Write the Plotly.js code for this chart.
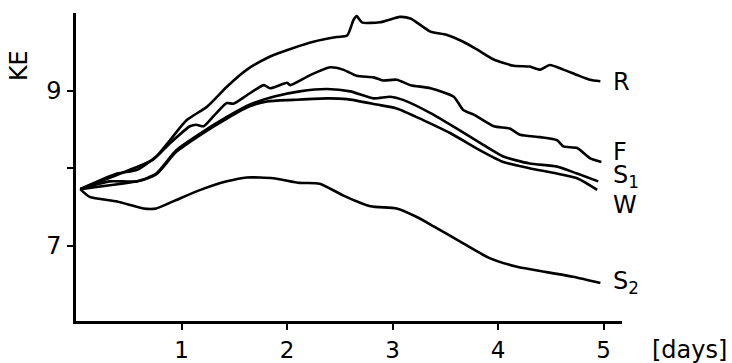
<!DOCTYPE html>
<html>
<head>
<meta charset="utf-8">
<script src="https://cdn.plot.ly/plotly-3.0.1.min.js"></script>
<style>html,body{margin:0;padding:0;background:#fff;}#chart{width:732px;height:363px;}</style>
</head>
<body>
<div id="chart"></div>
<script>
// Days
const rX = [0.04,0.39,0.58,0.76,0.89,1.05,1.24,1.43,1.62,1.84,2.06,2.25,2.47,2.57,2.63,2.66,2.71,2.88,3.07,3.17,3.36,3.51,3.67,3.80,3.96,4.15,4.30,4.40,4.49,4.62,4.75,4.87,4.97];
const rY = [7.73,7.93,7.98,8.15,8.36,8.62,8.79,9.05,9.27,9.44,9.55,9.63,9.69,9.71,9.91,9.96,9.88,9.88,9.95,9.93,9.76,9.72,9.63,9.53,9.40,9.32,9.31,9.27,9.33,9.27,9.20,9.14,9.12];

const fX = [0.04,0.42,0.73,0.89,1.08,1.14,1.21,1.33,1.43,1.49,1.62,1.78,1.84,2.00,2.03,2.22,2.41,2.53,2.66,2.82,2.91,3.04,3.17,3.36,3.58,3.67,3.77,3.96,4.11,4.21,4.40,4.56,4.62,4.75,4.87,4.98];
const fY = [7.73,7.93,8.11,8.32,8.54,8.56,8.54,8.71,8.84,8.83,8.94,9.07,9.03,9.10,9.07,9.20,9.30,9.27,9.19,9.17,9.13,9.14,9.07,9.03,8.92,8.75,8.69,8.54,8.51,8.43,8.40,8.36,8.28,8.26,8.13,8.08];

const s1X = [0.04,0.32,0.58,0.76,0.95,1.18,1.43,1.65,1.87,2.12,2.38,2.60,2.82,2.98,3.10,3.36,3.61,3.86,4.05,4.30,4.56,4.75,4.95];
const s1Y = [7.73,7.83,7.83,7.93,8.23,8.45,8.66,8.82,8.92,8.99,9.02,8.99,8.90,8.92,8.88,8.71,8.51,8.30,8.15,8.06,8.02,7.93,7.83];

const wX = [0.04,0.32,0.58,0.76,0.95,1.18,1.43,1.65,1.81,2.06,2.38,2.57,2.85,3.04,3.29,3.55,3.83,4.05,4.30,4.52,4.75,4.94];
const wY = [7.73,7.78,7.83,7.92,8.21,8.43,8.64,8.80,8.86,8.88,8.90,8.89,8.82,8.77,8.62,8.45,8.23,8.08,8.00,7.94,7.87,7.72];

const s2X = [0.04,0.13,0.39,0.64,0.76,0.95,1.18,1.43,1.62,1.87,2.12,2.31,2.53,2.79,3.04,3.23,3.39,3.67,3.92,4.18,4.46,4.71,4.97];
const s2Y = [7.73,7.63,7.57,7.48,7.48,7.59,7.72,7.83,7.88,7.87,7.81,7.80,7.65,7.51,7.48,7.37,7.25,7.03,6.84,6.73,6.66,6.60,6.52];

const seriesNames = ['R','F','S<sub>1</sub>','W','S<sub>2</sub>'];
const labelY = [9.11, 8.21, 7.89, 7.52, 6.53];

const xTickVals = [1,2,3,4,5];
const xTickText = ['1','2','3','4','5'];
const yTickVals = [7,8,9];
const yTickText = ['7','','9'];

const FONT = 'DejaVu Sans, sans-serif';
const xs = [rX,fX,s1X,wX,s2X];
const ys = [rY,fY,s1Y,wY,s2Y];

const traces = xs.map((x,i)=>({
  x: x, y: ys[i], type:'scatter', mode:'lines',
  line:{color:'#000', width:2.6, shape:'spline', smoothing:0.6},
  hoverinfo:'skip', showlegend:false
}));

const annotations = seriesNames.map((n,i)=>({
  x: 5.07, y: labelY[i], xref:'x', yref:'y', text:n, showarrow:false,
  xanchor:'left', yanchor:'middle', font:{family:FONT, size:24, color:'#000'}
}));
annotations.push({
  x: -0.103, y: 0.83, xref:'paper', yref:'paper', text:'KE', textangle:-90,
  showarrow:false, xanchor:'center', yanchor:'middle', font:{family:FONT, size:24, color:'#000'}
});
annotations.push({
  x: 1.196, y: -0.094, xref:'paper', yref:'paper', text:'[days]',
  showarrow:false, xanchor:'right', yanchor:'middle', font:{family:FONT, size:24, color:'#000'}
});

const layout = {
  width:732, height:363,
  margin:{l:76, r:110, t:13, b:42},
  paper_bgcolor:'#fff', plot_bgcolor:'#fff',
  xaxis:{range:[0,5.175], showgrid:false, zeroline:false, showline:true, linecolor:'#000', linewidth:2.6,
    tickvals:xTickVals, ticktext:xTickText, ticks:'outside', ticklen:6, tickwidth:2, tickcolor:'#000',
    ticklabelstandoff:1, tickfont:{family:FONT, size:23, color:'#000'}},
  yaxis:{range:[6.03,10.0], showgrid:false, zeroline:false, showline:true, linecolor:'#000', linewidth:2.6,
    tickvals:yTickVals, ticktext:yTickText, ticks:'outside', ticklen:6, tickwidth:2, tickcolor:'#000',
    ticklabelstandoff:1, tickfont:{family:FONT, size:24, color:'#000'}},
  annotations: annotations
};

Plotly.newPlot('chart', traces, layout, {displayModeBar:false, staticPlot:true});
</script>
</body>
</html>
